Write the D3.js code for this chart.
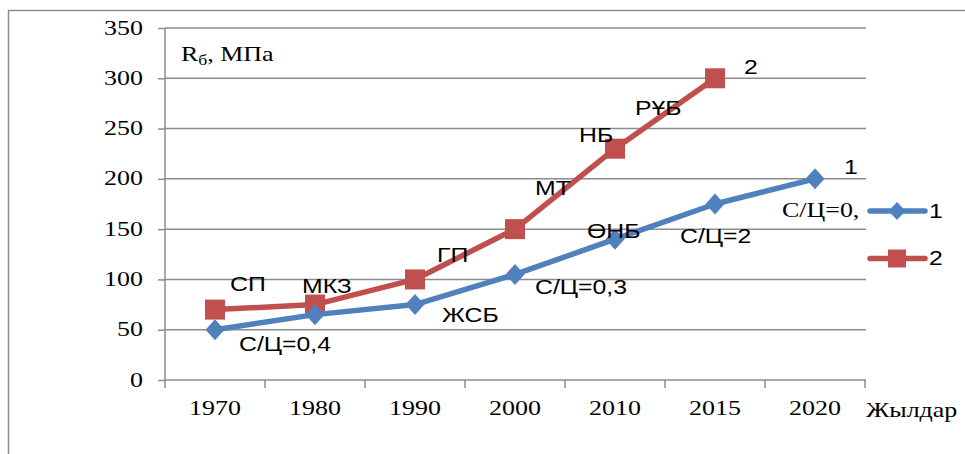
<!DOCTYPE html>
<html><head><meta charset="utf-8">
<script src="https://cdn.jsdelivr.net/npm/d3@7"></script>
<style>body{margin:0;background:#fff}svg{display:block}</style>
</head><body>
<svg id="c" width="965" height="454"></svg>
<script>
const categories = ["1970","1980","1990","2000","2010","2015","2020"];
const series1 = [50, 65, 75, 105, 140, 175, 200];
const series2 = [70, 75, 100, 150, 230, 300, null];
const yTicks = [0, 50, 100, 150, 200, 250, 300, 350];
const labels1 = ["С/Ц=0,4", "", "ЖСБ", "С/Ц=0,3", "ӨНБ", "С/Ц=2", "С/Ц=0,"];
const labels2 = ["СП", "МКЗ", "ГП", "МТ", "НБ", "РҰБ", ""];
const seriesNames = ["1", "2"];
const colors = ["#4F81BD", "#C0504D"];

const svg = d3.select("#c");
const L = 165, R = 865, T = 28, B = 380;
const x = d3.scaleBand().domain(categories).range([L, R]);
const y = d3.scaleLinear().domain([0, 350]).range([B, T]);
const serif = "'Liberation Serif','Times New Roman',serif";
const sans = "'Liberation Sans',Arial,sans-serif";
const SX = 1.18;
const grey = "#8c8c8c";

function txt(px, py, t, fam, size, anchor, base) {
  return svg.append("text").attr("transform", `translate(${px},${py}) scale(${SX},1)`)
    .attr("font-family", fam).attr("font-size", size).attr("fill", "#000")
    .attr("text-anchor", anchor || "start").attr("dominant-baseline", base || "middle").text(t);
}

// outer border (top + left)
svg.append("path").attr("d", "M8.5,454 V10.5 H965").attr("fill","none").attr("stroke",grey).attr("stroke-width",1.5);

// gridlines
svg.append("g").selectAll("line").data(yTicks.filter(d=>d>0)).join("line")
  .attr("x1", L).attr("x2", R+1).attr("y1", d=>y(d)).attr("y2", d=>y(d))
  .attr("stroke",grey).attr("stroke-width",1.5);

// y axis
const ya = svg.append("g").attr("transform", `translate(${L},0)`)
  .call(d3.axisLeft(y).tickValues(yTicks).tickSize(7).tickPadding(8));
ya.select(".domain").attr("stroke",grey).attr("stroke-width",1.5).attr("d", `M0,${B}V${T}`);
ya.selectAll(".tick line").attr("stroke",grey).attr("stroke-width",1.5);
ya.selectAll(".tick text").attr("x", null).attr("dy", null).attr("dominant-baseline","middle")
  .attr("transform", `translate(-22,1) scale(${SX},1)`)
  .attr("font-family", serif).attr("font-size", 22).attr("fill","#000");

// x axis
const xa = svg.append("g").attr("transform", `translate(0,${B})`)
  .call(d3.axisBottom(x).tickSize(0).tickPadding(0));
xa.select(".domain").attr("stroke",grey).attr("stroke-width",1.5).attr("d", `M${L},0H${R+1}`);
xa.selectAll(".tick text").attr("y", null).attr("dy", null).attr("dominant-baseline","middle")
  .attr("transform", `translate(0,30) scale(${SX},1)`)
  .attr("font-family", serif).attr("font-size", 22).attr("fill","#000");
const bnd = [...categories.map(c=>x(c)), R];
svg.append("g").selectAll("line").data(bnd).join("line")
  .attr("x1", d=>d).attr("x2", d=>d).attr("y1", B).attr("y2", B+8)
  .attr("stroke",grey).attr("stroke-width",1.5);

txt(866, 412, "Жылдар", serif, 22);

// y title
const yt = svg.append("text").attr("transform", `translate(181,56) scale(${SX},1)`)
  .attr("font-family", serif).attr("font-size", 22).attr("dominant-baseline","middle");
yt.append("tspan").text("R");
yt.append("tspan").attr("font-size", 15).attr("dy", 5).text("б");
yt.append("tspan").attr("dy", -5).text(", МПа");

const cx = c => x(c) + x.bandwidth()/2;
const line = d3.line().defined(d=>d.v!=null).x(d=>cx(d.c)).y(d=>y(d.v));
const data1 = categories.map((c,i)=>({c, v: series1[i]}));
const data2 = categories.map((c,i)=>({c, v: series2[i]}));

function diamond(w, h) { return `M0,${-h}L${w},0L0,${h}L${-w},0Z`; }

function drawSeries(data, color, marker) {
  svg.append("path").datum(data).attr("d", line).attr("fill","none")
    .attr("stroke", color).attr("stroke-width", 5.5).attr("stroke-linejoin","round");
  const pts = data.filter(d=>d.v!=null);
  if (marker === "diamond") {
    svg.append("g").selectAll("path").data(pts).join("path")
      .attr("d", diamond(9.5, 10.5))
      .attr("transform", d=>`translate(${cx(d.c)},${y(d.v)})`)
      .attr("fill", color);
  } else {
    svg.append("g").selectAll("rect").data(pts).join("rect")
      .attr("x", d=>cx(d.c)-10).attr("y", d=>y(d.v)-10).attr("width",20).attr("height",20)
      .attr("fill", color);
  }
}
drawSeries(data2, colors[1], "square");
drawSeries(data1, colors[0], "diamond");

// data labels series 1: [dx of left edge, dy of centre] relative to point
const off1 = [[24,16],[0,0],[27,12],[20,14],[-28,-7],[-35,33],[-33,33]];
labels1.forEach((t,i)=>{
  if (!t) return;
  const fam = i === 6 ? serif : sans;
  const sz = i === 6 ? 22 : 21;
  txt(cx(categories[i])+off1[i][0], y(series1[i])+off1[i][1], t, fam, sz);
});
const off2 = [[15,-24],[-13,-17],[22,-23],[20,-40],[-36,-12],[-80,31],[0,0]];
labels2.forEach((t,i)=>{
  if (!t || series2[i] == null) return;
  txt(cx(categories[i])+off2[i][0], y(series2[i])+off2[i][1], t, sans, 21);
});
// series end labels
const lastIdx = [6, 5];
[series1, series2].forEach((s,k)=>{
  const i = lastIdx[k];
  txt(cx(categories[i])+29, y(s[i])-10, seriesNames[k], sans, 21);
});

// legend
const lg = svg.append("g");
seriesNames.forEach((n,i)=>{
  const ly = 211 + i*47.5;
  lg.append("line").attr("x1", 870).attr("x2", 925).attr("y1", ly).attr("y2", ly)
    .attr("stroke", colors[i]).attr("stroke-width", 5.5).attr("stroke-linecap","round");
  if (i===0) lg.append("path").attr("d", diamond(8.5, 9)).attr("transform", `translate(897,${ly})`).attr("fill", colors[i]);
  else lg.append("rect").attr("x", 888).attr("y", ly-9).attr("width",18).attr("height",18).attr("fill", colors[i]);
  lg.append("text").attr("transform", `translate(929,${ly+1}) scale(${SX},1)`).attr("font-family", sans).attr("font-size", 21)
    .attr("dominant-baseline","middle").text(n);
});
</script>
</body></html>
